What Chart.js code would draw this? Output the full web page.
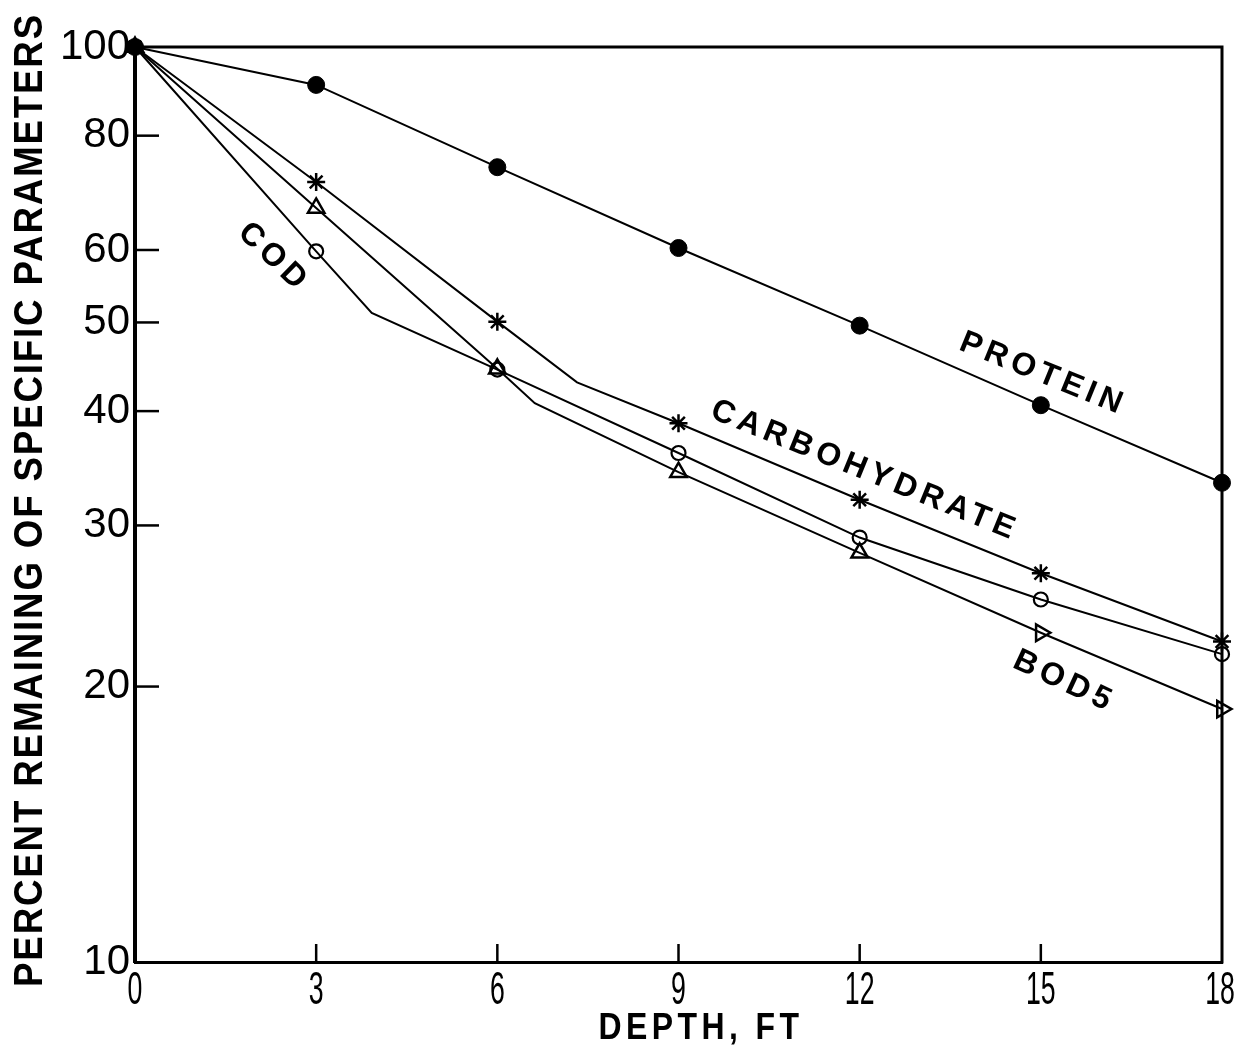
<!DOCTYPE html>
<html>
<head>
<meta charset="utf-8">
<script src="https://cdn.jsdelivr.net/npm/chart.js@4/dist/chart.umd.min.js"></script>
<style>
  html, body { margin: 0; padding: 0; background: #fff; }
  canvas { display: block; }
</style>
</head>
<body>
<canvas id="c" width="1235" height="1050"></canvas>
<script>
// Sampling depths (ft) and percent of each parameter remaining
const depths = [0, 3, 6, 9, 12, 15, 18];
const protein = [100, 90.9, 73.9, 60.3, 49.6, 40.6, 33.4];
const carbohydrate = [100, 71.2, 50.1, 38.8, 32.0, 26.6, 22.4];
const cod = [100, 59.8, 44.4, 36.0, 29.1, 24.9, 21.7];
const bod5 = [100, 66.7, 44.5, 34.3, 28.0, 22.9, 18.9];

// Bends in the hand-fitted curves: [depth, percent]
const carbBend = [7.32, 43.0];
const codBend = [3.92, 51.2];
const bodBend = [6.62, 40.8];

// Axis tick values
const xTicks = [0, 3, 6, 9, 12, 15, 18];
const yTicks = [10, 20, 30, 40, 50, 60, 80, 100];

const points = vals => depths.map((d, i) => ({ x: d, y: vals[i] }));
// Curve through the measured points plus its bend, ordered by depth
const trace = (vals, bend) => {
  const p = points(vals);
  if (bend) p.push({ x: bend[0], y: bend[1] });
  return p.sort((a, b) => a.x - b.x);
};

// Curve names written along the lines (anchored in data units)
const curveNames = [
  { text: 'PROTEIN', depth: 15.0, pct: 44.0, angle: 22 },
  { text: 'CARBOHYDRATE', depth: 12.05, pct: 34.5, angle: 22 },
  { text: 'BOD5', depth: 15.35, pct: 20.3, angle: 25 },
  { text: 'COD', depth: 2.27, pct: 59.1, angle: 44 }
];

const BLACK = '#000';
const SANS = '"Liberation Sans", Arial, sans-serif';
const markerBase = { showLine: false, borderColor: BLACK, clip: false };
const lineBase = { showLine: true, pointRadius: 0, borderColor: BLACK, borderWidth: 2, tension: 0, clip: false, fill: false };

// Draw text centred at (cx, cy), squeezed horizontally by factor sx
function squeezedText(ctx, text, cx, cy, angle, sx) {
  ctx.save();
  ctx.translate(cx, cy);
  ctx.rotate(angle);
  ctx.scale(sx, 1);
  ctx.fillText(text, 0, 0);
  ctx.restore();
}
// Same, with the squeeze chosen so the text spans the given width
function fittedText(ctx, text, cx, cy, angle, width) {
  squeezedText(ctx, text, cx, cy, angle, width / ctx.measureText(text).width);
}

const decorations = {
  id: 'decorations',
  afterDraw(chart) {
    const { ctx, chartArea: a, scales: { x, y } } = chart;
    ctx.save();
    ctx.strokeStyle = BLACK;
    ctx.lineCap = 'square';
    // top and right edges of the frame
    ctx.lineWidth = 3;
    ctx.beginPath();
    ctx.moveTo(a.left, a.top);
    ctx.lineTo(a.right, a.top);
    ctx.lineTo(a.right, a.bottom);
    ctx.stroke();
    // inward tick marks
    ctx.lineWidth = 2.5;
    ctx.lineCap = 'butt';
    yTicks.forEach(v => {
      if (v === 10 || v === 100) return;
      const py = y.getPixelForValue(v);
      ctx.beginPath(); ctx.moveTo(a.left, py); ctx.lineTo(a.left + 24, py); ctx.stroke();
    });
    xTicks.forEach(v => {
      if (v === 0 || v === 18) return;
      const px = x.getPixelForValue(v);
      ctx.beginPath(); ctx.moveTo(px, a.bottom); ctx.lineTo(px, a.bottom - 18); ctx.stroke();
    });

    ctx.fillStyle = BLACK;
    ctx.textAlign = 'center';
    // depth tick labels, in narrow lettering
    ctx.textBaseline = 'alphabetic';
    ctx.font = '46px ' + SANS;
    ctx.letterSpacing = '0px';
    xTicks.forEach(v => squeezedText(ctx, String(v), x.getPixelForValue(v) - (v === 18 ? 2 : 0), a.bottom + 42, 0, 0.58));

    ctx.textBaseline = 'middle';
    // curve names
    ctx.font = 'bold 32px ' + SANS;
    ctx.letterSpacing = '5px';
    curveNames.forEach(l => {
      ctx.save();
      ctx.translate(x.getPixelForValue(l.depth), y.getPixelForValue(l.pct));
      ctx.rotate(l.angle * Math.PI / 180);
      ctx.fillText(l.text, 2.5, 0);
      ctx.restore();
    });
    // axis titles
    ctx.font = 'bold 40px ' + SANS;
    ctx.letterSpacing = '2px';
    fittedText(ctx, 'PERCENT REMAINING OF SPECIFIC PARAMETERS', 31, 500, -Math.PI / 2, 974);
    ctx.font = 'bold 36px ' + SANS;
    ctx.letterSpacing = '5px';
    fittedText(ctx, 'DEPTH, FT', 701, 1029, 0, 205);
    ctx.restore();
  }
};

new Chart(document.getElementById('c'), {
  type: 'line',
  data: {
    datasets: [
      { ...markerBase, label: 'Protein', data: points(protein), pointStyle: 'circle', pointRadius: 8.5, backgroundColor: BLACK, borderWidth: 1 },
      { ...markerBase, label: 'Carbohydrate', data: points(carbohydrate), pointStyle: 'star', pointRadius: 9, backgroundColor: BLACK, borderWidth: 2.5 },
      { ...markerBase, label: 'COD', data: points(cod), pointStyle: 'circle', pointRadius: 7, backgroundColor: 'rgba(0,0,0,0)', borderWidth: 2.2 },
      { ...markerBase, label: 'BOD5', data: points(bod5), pointStyle: 'triangle', pointRadius: 9.5, backgroundColor: 'rgba(0,0,0,0)', borderWidth: 2.5, pointRotation: [0, 0, 0, 0, 0, 90, 90] },
      { ...lineBase, label: 'Protein curve', data: trace(protein) },
      { ...lineBase, label: 'Carbohydrate curve', data: trace(carbohydrate, carbBend) },
      { ...lineBase, label: 'COD curve', data: trace(cod, codBend) },
      { ...lineBase, label: 'BOD5 curve', data: trace(bod5, bodBend) }
    ]
  },
  options: {
    responsive: false,
    animation: false,
    events: [],
    layout: { padding: { top: 47, right: 13, left: 0, bottom: 0 } },
    plugins: { legend: { display: false }, tooltip: { enabled: false } },
    scales: {
      x: {
        type: 'linear', min: 0, max: 18,
        afterBuildTicks: s => { s.ticks = xTicks.map(v => ({ value: v })); },
        afterFit: s => { s.height = 88; s.paddingLeft = 0; s.paddingRight = 0; },
        ticks: { display: false },
        grid: { drawOnChartArea: false, drawTicks: false },
        border: { display: true, color: BLACK, width: 3 }
      },
      y: {
        type: 'logarithmic', min: 10, max: 100,
        afterBuildTicks: s => { s.ticks = yTicks.map(v => ({ value: v })); },
        afterFit: s => { s.width = 135; s.paddingTop = 0; s.paddingBottom = 0; },
        ticks: {
          color: BLACK, padding: 5, autoSkip: false, labelOffset: 0,
          callback: v => String(v),
          font: { family: SANS, size: 42 }
        },
        grid: { drawOnChartArea: false, drawTicks: false },
        border: { display: true, color: BLACK, width: 4 }
      }
    }
  },
  plugins: [decorations]
});
</script>
</body>
</html>
